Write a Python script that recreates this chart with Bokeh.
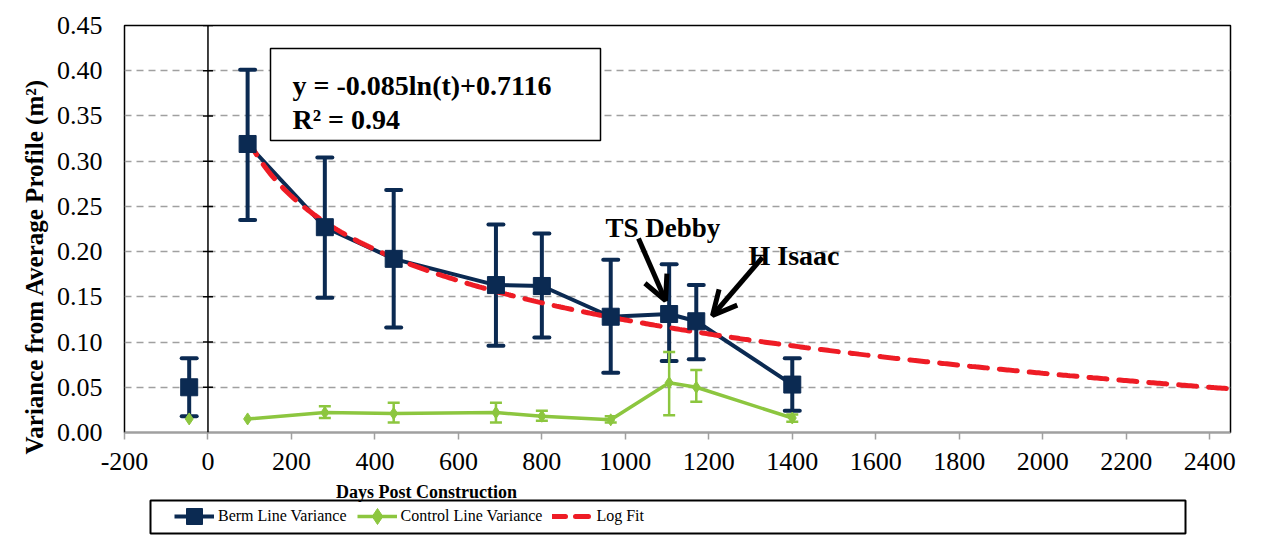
import math
from bokeh.plotting import figure
from bokeh.layouts import column
from bokeh.models import (ColumnDataSource, Whisker, TeeHead, Span, Label, BoxAnnotation,
                          Arrow, OpenHead, Legend, LegendItem, FixedTicker, NumeralTickFormatter)
from bokeh.embed import file_html
from bokeh.resources import INLINE

# ---------------- data ----------------
days = [95, 280, 445, 690, 800, 965, 1105, 1170, 1400]
berm = [0.319, 0.227, 0.192, 0.163, 0.162, 0.128, 0.131, 0.123, 0.053]
berm_hi = [0.401, 0.304, 0.268, 0.230, 0.220, 0.191, 0.186, 0.163, 0.082]
berm_lo = [0.235, 0.149, 0.116, 0.096, 0.105, 0.066, 0.079, 0.081, 0.024]
control = [0.015, 0.022, 0.021, 0.022, 0.018, 0.014, 0.055, 0.050, 0.016]
control_hi = [0.015, 0.029, 0.033, 0.033, 0.024, 0.018, 0.089, 0.069, 0.020]
control_lo = [0.015, 0.016, 0.011, 0.011, 0.013, 0.011, 0.019, 0.034, 0.012]

pre_day = [-45]
pre_berm = [0.050]
pre_berm_hi = [0.082]
pre_berm_lo = [0.018]
pre_control = [0.015]

x_ticks = [-200, 0, 200, 400, 600, 800, 1000, 1200, 1400, 1600, 1800, 2000, 2200, 2400]
y_ticks = [0.00, 0.05, 0.10, 0.15, 0.20, 0.25, 0.30, 0.35, 0.40, 0.45]

# log trendline as printed on the chart: y = -0.085 ln(t) + 0.7116
fit_a = -0.085
fit_b = 0.7116
fit_days = list(range(95, 2445, 5))
fit_y = [fit_a * math.log(t) + fit_b for t in fit_days]

series_names = ["Berm Line Variance", "Control Line Variance", "Log Fit"]
eq_line1 = "y = -0.085ln(t)+0.7116"
eq_line2 = "R\u00b2 = 0.94"
x_title = "Days Post Construction"
y_title = "Variance from Average Profile (m\u00b2)"

NAVY = "#0B2A52"
GREEN = "#8CC63F"
RED = "#EE1C25"
GRID = "#A0A0A0"
SERIF = "Liberation Serif"

# ---------------- main figure ----------------
p = figure(width=1269, height=483, x_range=(-200, 2450), y_range=(0, 0.45),
           output_backend="svg", toolbar_location=None,
           min_border_left=124, min_border_right=39, min_border_top=25, min_border_bottom=51)
p.background_fill_color = "white"
p.border_fill_color = "white"
p.outline_line_color = "black"
p.outline_line_width = 1.5

p.xgrid.visible = False
p.ygrid.ticker = FixedTicker(ticks=y_ticks)
p.ygrid.grid_line_color = GRID
p.ygrid.grid_line_dash = "7 5"
p.ygrid.grid_line_width = 1.5

xa = p.xaxis[0]
xa.ticker = FixedTicker(ticks=x_ticks)
xa.formatter = NumeralTickFormatter(format="0")
xa.axis_line_color = GRID
xa.axis_line_width = 1.5
xa.major_tick_line_color = GRID
xa.major_tick_line_width = 1.5
xa.major_tick_out = 7
xa.major_tick_in = 0
xa.minor_tick_line_color = None
xa.major_label_text_font = SERIF
xa.major_label_text_font_size = "26px"
xa.major_label_text_color = "black"
xa.major_label_standoff = 13

ya = p.yaxis[0]
ya.ticker = FixedTicker(ticks=y_ticks)
ya.formatter = NumeralTickFormatter(format="0.00")
ya.axis_line_color = None
ya.major_tick_line_color = None
ya.minor_tick_line_color = None
ya.major_tick_out = 0
ya.major_tick_in = 0
ya.major_label_standoff = 22
ya.major_label_text_font = SERIF
ya.major_label_text_font_size = "26px"
ya.major_label_text_color = "black"
# trailing em-spaces push the centred title down, as in the original
ya.axis_label = y_title + "\u2003" * 3
ya.axis_label_text_font = SERIF
ya.axis_label_text_font_style = "bold"
ya.axis_label_text_font_size = "25px"
ya.axis_label_text_color = "black"
ya.axis_label_standoff = 6

# vertical axis line at day 0 with its ticks
p.add_layout(Span(location=0, dimension="height", line_color="black", line_width=1.5))
zero_ticks = y_ticks[1:]
p.scatter(x=[0] * len(zero_ticks), y=zero_ticks, marker="dash", size=10,
          line_color="black", line_width=1.5)

# error bars
bw_src = ColumnDataSource(dict(x=pre_day + days, hi=pre_berm_hi + berm_hi, lo=pre_berm_lo + berm_lo))
p.add_layout(Whisker(source=bw_src, base="x", upper="hi", lower="lo",
                     line_color=NAVY, line_width=4,
                     upper_head=TeeHead(size=15, line_color=NAVY, line_width=4, line_cap="round"),
                     lower_head=TeeHead(size=15, line_color=NAVY, line_width=4, line_cap="round")))
keep = [i for i in range(len(days)) if control_hi[i] > control_lo[i]]
cw_src = ColumnDataSource(dict(x=[days[i] for i in keep], hi=[control_hi[i] for i in keep],
                               lo=[control_lo[i] for i in keep]))
p.add_layout(Whisker(source=cw_src, base="x", upper="hi", lower="lo",
                     line_color=GREEN, line_width=2.5,
                     upper_head=TeeHead(size=12, line_color=GREEN, line_width=2.5),
                     lower_head=TeeHead(size=12, line_color=GREEN, line_width=2.5)))

# series
p.line(days, berm, line_color=NAVY, line_width=4)
p.line(days, control, line_color=GREEN, line_width=3.5)
p.line(fit_days, fit_y, line_color=RED, line_width=5, line_dash="18 12", line_cap="round")
p.scatter(days, berm, marker="square", size=17, color=NAVY)
p.scatter(pre_day, pre_berm, marker="square", size=17, color=NAVY)
p.scatter(days, control, marker="diamond", size=12, color=GREEN)
p.scatter(pre_day, pre_control, marker="diamond", size=12, color=GREEN)

# equation box
p.add_layout(BoxAnnotation(left=146, right=476, top=384, bottom=292,
                           left_units="screen", right_units="screen",
                           top_units="screen", bottom_units="screen",
                           fill_color="white", fill_alpha=1, line_color="black",
                           line_alpha=1, line_width=1.5))
p.add_layout(Label(x=168, y=347, x_units="screen", y_units="screen", text=eq_line1,
                   text_font=SERIF, text_font_style="bold", text_font_size="28px",
                   text_color="black", text_baseline="alphabetic"))
p.add_layout(Label(x=168, y=313, x_units="screen", y_units="screen", text=eq_line2,
                   text_font=SERIF, text_font_style="bold", text_font_size="28px",
                   text_color="black", text_baseline="alphabetic"))

# storm annotations
p.add_layout(Label(x=481, y=205, x_units="screen", y_units="screen", text="TS Debby",
                   text_font=SERIF, text_font_style="bold", text_font_size="27px",
                   text_color="black", text_baseline="alphabetic"))
p.add_layout(Label(x=624, y=177, x_units="screen", y_units="screen", text="H Isaac",
                   text_font=SERIF, text_font_style="bold", text_font_size="28px",
                   text_color="black", text_baseline="alphabetic"))
p.add_layout(Arrow(x_start=514, y_start=194, x_end=541, y_end=132,
                   start_units="screen", end_units="screen",
                   line_color="black", line_width=5,
                   end=OpenHead(size=24, line_color="black", line_width=5)))
p.add_layout(Arrow(x_start=638, y_start=175, x_end=588, y_end=117,
                   start_units="screen", end_units="screen",
                   line_color="black", line_width=5,
                   end=OpenHead(size=24, line_color="black", line_width=5)))

# ---------------- strip below: x title + legend ----------------
# (its frame is aligned with the main frame: left edge at the x = -200 border)
q = figure(width=1269, height=65, x_range=(0, 1), y_range=(0, 1),
           output_backend="svg", toolbar_location=None,
           x_axis_type=None, y_axis_type=None,
           min_border_left=124, min_border_right=39, min_border_top=0, min_border_bottom=0)
q.grid.visible = False
q.outline_line_color = None
q.background_fill_color = "white"
q.border_fill_color = "white"

q.add_layout(Label(x=302, y=57, x_units="screen", y_units="screen", text=x_title,
                   text_font=SERIF, text_font_style="bold", text_font_size="18px",
                   text_color="black", text_align="center", text_baseline="middle"))

# legend swatches: the series redrawn here fall outside this strip's ranges,
# so only their styles show up, in the legend
lb = q.line(days, berm, line_color=NAVY, line_width=4)
sb = q.scatter(days, berm, marker="square", color=NAVY)
lc = q.line(days, control, line_color=GREEN, line_width=3.5)
sc = q.scatter(days, control, marker="diamond", color=GREEN)
lf = q.line(fit_days, fit_y, line_color=RED, line_width=5, line_dash="13 10", line_cap="round")

q.add_layout(BoxAnnotation(left=26, right=1061, top=48, bottom=15,
                           left_units="screen", right_units="screen",
                           top_units="screen", bottom_units="screen",
                           fill_alpha=0, line_color="black", line_alpha=1, line_width=2))
legend = Legend(items=[LegendItem(label=series_names[0], renderers=[lb, sb]),
                       LegendItem(label=series_names[1], renderers=[lc, sc]),
                       LegendItem(label=series_names[2], renderers=[lf])],
                orientation="horizontal", location=(50, 11), margin=0,
                glyph_width=40, glyph_height=42, label_standoff=4, spacing=10, padding=4,
                label_text_font=SERIF, label_text_font_size="16px", label_text_color="black",
                background_fill_alpha=0, border_line_color=None)
q.add_layout(legend)

layout = column(p, q, spacing=0)
open("out.html", "w").write(file_html(layout, INLINE))
